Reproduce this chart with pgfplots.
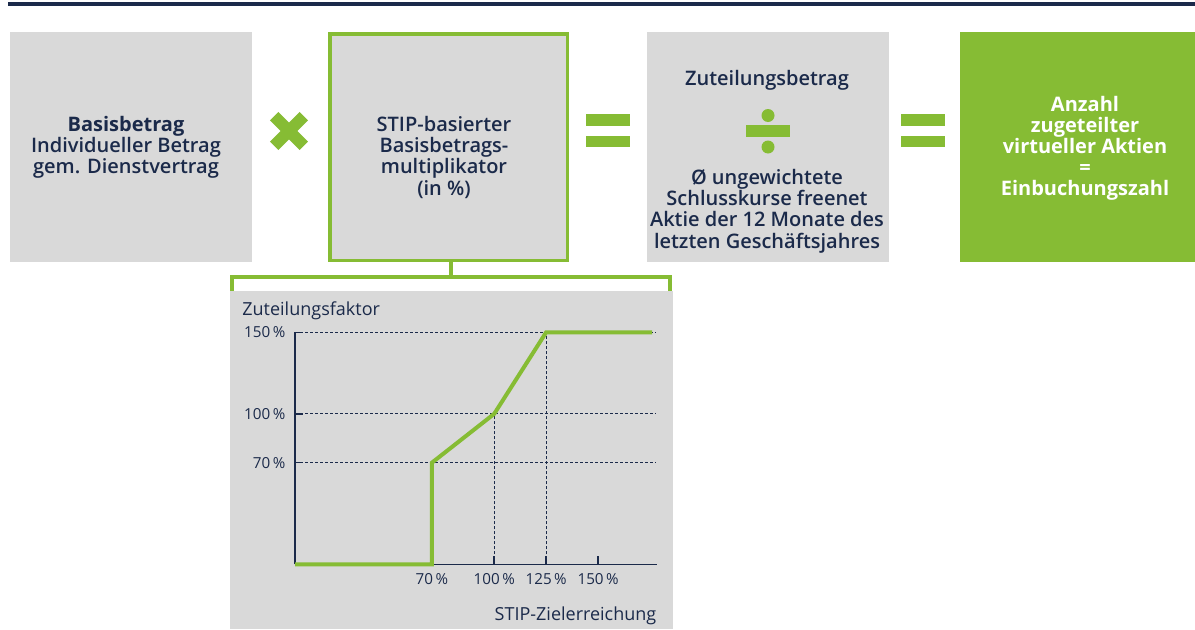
\documentclass[border=0pt]{standalone}
\usepackage{pgfplots}
\pgfplotsset{compat=1.18}
\usepackage{fontspec}
\setmainfont{Open Sans}
\IfFontExistsTF{Open Sans SemiBold}{\newfontface\semib{Open Sans SemiBold}}{%
  \IfFontExistsTF{Open Sans Semibold}{\newfontface\semib{Open Sans Semibold}}{%
    \newfontface\semib{Open Sans}[FakeBold=1.5]}}
\definecolor{navy}{RGB}{27,42,74}
\definecolor{grn}{RGB}{134,188,52}
\definecolor{gry}{RGB}{217,217,217}
\newcommand{\tl}[4]{\node[anchor=base,inner sep=0pt,text=#1,font=\fontsize{10}{10}\selectfont] at (#2,629-#3) {#4};}
\begin{document}
\begin{tikzpicture}[x=0.5pt,y=0.5pt]
\useasboundingbox (0,0) rectangle (1195,629);
% top rule
\draw[navy,line width=2pt] (8,629-3.7) -- (1195,629-3.7);
% boxes
\fill[gry] (10,629-32) rectangle (252,629-262);
\fill[gry] (328,629-32) rectangle (569,629-262);
\draw[grn,line width=1.75pt] (329.75,629-33.75) rectangle (567.25,629-260.25);
\fill[gry] (647,629-32) rectangle (889,629-262);
\fill[grn] (960,629-32) rectangle (1195,629-262);
% chart background
\fill[gry] (230,0) rectangle (672.5,629-290.5);
% connector
\draw[grn,line width=2pt] (451,629-262) -- (451,629-277);
\draw[grn,line width=2pt] (232,629-290.5) -- (232,629-277) -- (670,629-277) -- (670,629-290.5);
% multiplication sign
\draw[grn,line width=6pt] (289-14.8,629-131+14.8) -- (289+14.8,629-131-14.8);
\draw[grn,line width=6pt] (289-14.8,629-131-14.8) -- (289+14.8,629-131+14.8);
% equals signs
\fill[grn] (586,629-114) rectangle (630,629-126);
\fill[grn] (586,629-136) rectangle (630,629-147.3);
\fill[grn] (901,629-114) rectangle (945,629-126);
\fill[grn] (901,629-136) rectangle (945,629-147.3);
% division sign
\fill[grn] (768,629-115.5) circle (6.5);
\fill[grn] (746,629-125) rectangle (790,629-136.7);
\fill[grn] (768,629-147) circle (6.5);
% box 1 text
\tl{navy}{126}{131}{\bfseries Basisbetrag}
\tl{navy}{126}{152}{\semib Individueller Betrag}
\tl{navy}{126}{173}{\semib gem. Dienstvertrag}
% box 2 text
\tl{navy}{444}{131}{\semib STIP-basierter}
\tl{navy}{444}{152}{\semib Basisbetrags-}
\tl{navy}{444}{173}{\semib multiplikator}
\tl{navy}{444}{195}{\semib (in \%)}
% box 3 text
\tl{navy}{767}{85}{\semib Zuteilungsbetrag}
\tl{navy}{767}{184}{\semib Ø ungewichtete}
\tl{navy}{767}{205}{\semib Schlusskurse freenet}
\tl{navy}{767}{226.5}{\semib Aktie der 12 Monate des}
\tl{navy}{767}{248}{\semib letzten Geschäftsjahres}
% box 4 text
\tl{white}{1085}{111}{\bfseries Anzahl}
\tl{white}{1085}{132}{\bfseries zugeteilter}
\tl{white}{1085}{153}{\bfseries virtueller Aktien}
\tl{white}{1085}{174}{\bfseries =}
\tl{white}{1085}{195}{\bfseries Einbuchungszahl}
% chart (schematic axes: scale below 70 % is compressed, as in the original)
\begin{axis}[
  at={(147.5pt,32.35pt)}, anchor=south west,
  scale only axis, width=180.85pt, height=116pt,
  x coord trafo/.code={\pgfmathparse{#1<70 ? 0.9413*#1 : #1-4.11}},
  y coord trafo/.code={\pgfmathparse{#1<70 ? 0.8904*#1 : #1-7.67}},
  xmin=0, xmax=178.2, ymin=0, ymax=150,
  axis lines=left, axis line style={navy,line width=0.75pt,-},
  clip=false,
  xtick={70,100,125,150}, xticklabels={70\,\%,100\,\%,125\,\%,150\,\%},
  ytick={70,100,150}, yticklabels={70\,\%,100\,\%,150\,\%},
  tick align=inside, major tick length=4pt,
  tick style={navy,line width=0.75pt},
  ticklabel style={font=\fontsize{7.6}{8}\selectfont, text=navy, inner sep=0pt},
  xticklabel style={anchor=north, yshift=-4.5pt},
  yticklabel style={anchor=east, xshift=-4.65pt},
  xlabel={STIP-Zielerreichung},
  xlabel style={at={(axis description cs:1,0)}, anchor=base east, yshift=-28.2pt,
    font=\fontsize{9}{9}\selectfont, text=navy, inner sep=0pt},
  ylabel={Zuteilungsfaktor},
  ylabel style={rotate=-90, at={(axis description cs:0,1)}, anchor=base west,
    xshift=-26.5pt, yshift=8.5pt, font=\fontsize{9}{9}\selectfont, text=navy, inner sep=0pt},
]
\addplot[navy, line width=0.5pt, dash pattern=on 1.5pt off 1pt] coordinates {(0,150) (177.4,150)};
\addplot[navy, line width=0.5pt, dash pattern=on 1.5pt off 1pt] coordinates {(0,100) (177.4,100)};
\addplot[navy, line width=0.5pt, dash pattern=on 1.5pt off 1pt] coordinates {(0,70) (177.4,70)};
\addplot[navy, line width=0.5pt, dash pattern=on 1.5pt off 1pt] coordinates {(100,0) (100,100)};
\addplot[navy, line width=0.5pt, dash pattern=on 1.5pt off 1pt] coordinates {(125,0) (125,150)};
\addplot[grn, line width=2pt] coordinates {(0,0) (70,0) (70,70) (100,100) (125,150) (176,150)};
\end{axis}
\end{tikzpicture}
\end{document}
